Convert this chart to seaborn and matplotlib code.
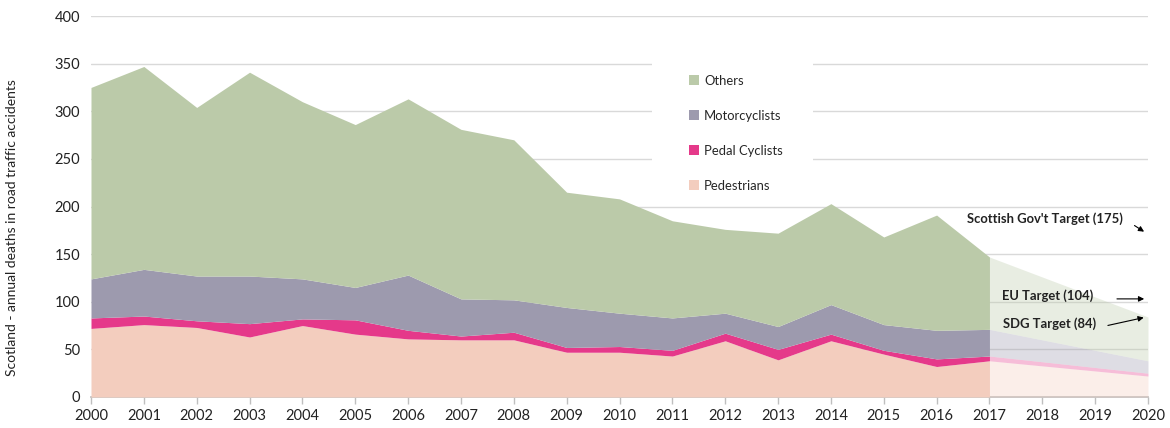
import matplotlib
matplotlib.use("Agg")
import matplotlib.pyplot as plt
from matplotlib.patches import Patch, Rectangle
import seaborn as sns
import pandas as pd

years = list(range(2000, 2018))
pedestrians = [72, 76, 73, 63, 75, 66, 61, 60, 60, 47, 47, 43, 59, 39, 59, 45, 32, 38]
pedal_cyclists = [11, 9, 7, 14, 7, 15, 9, 4, 8, 5, 6, 6, 8, 11, 7, 4, 8, 5]
motorcyclists = [41, 49, 47, 50, 42, 34, 58, 39, 34, 42, 35, 34, 21, 24, 31, 27, 30, 28]
others = [201, 213, 177, 214, 186, 171, 185, 178, 168, 121, 120, 102, 88, 98, 106, 92, 121, 76]

proj_years = [2017, 2020]
proj_pedestrians = [38, 22]
proj_pedal = [5, 3]
proj_motor = [28, 13]
proj_others = [76, 46]

series_names = ["Pedestrians", "Pedal Cyclists", "Motorcyclists", "Others"]
colors = ["#F3CDBE", "#E5398A", "#9D9AAE", "#BBCAA9"]

targets = [("Scottish Gov't Target (175)", 175), ("EU Target (104)", 104), ("SDG Target (84)", 84)]

df = pd.DataFrame({"year": years, "Pedestrians": pedestrians, "Pedal Cyclists": pedal_cyclists,
                   "Motorcyclists": motorcyclists, "Others": others})
proj = pd.DataFrame({"year": proj_years, "Pedestrians": proj_pedestrians, "Pedal Cyclists": proj_pedal,
                     "Motorcyclists": proj_motor, "Others": proj_others})

sns.set_theme(style="white")
plt.rcParams["font.family"] = ["Lato", "DejaVu Sans"]

fig = plt.figure(figsize=(11.7, 4.28), dpi=100)
ax = fig.add_axes([91 / 1170, 1 - 397 / 428, (1148 - 91) / 1170, (397 - 16) / 428])

ax.stackplot(df["year"], [df[n] for n in series_names], colors=colors, linewidth=0, zorder=3)
ax.stackplot(proj["year"], [proj[n] for n in series_names], colors=colors, alpha=0.33, linewidth=0, zorder=3)

ax.set_xlim(2000, 2020)
ax.set_ylim(0, 400)
ax.set_yticks(range(0, 401, 50))
ax.set_xticks(range(2000, 2021))
ax.yaxis.grid(True, color="#D9D9D9", lw=1)
ax.set_axisbelow(True)
sns.despine(ax=ax, left=True, top=True, right=True)
ax.spines["bottom"].set_color("#BFBFBF")
ax.tick_params(axis="x", length=5, color="#BFBFBF", width=1, labelsize=10.5, labelcolor="#222222", pad=4, bottom=True)
ax.tick_params(axis="y", length=0, labelsize=10.5, labelcolor="#222222", pad=8)
ax.set_ylabel("Scotland - annual deaths in road traffic accidents", fontsize=10, color="#222222")
ax.yaxis.set_label_coords(-0.069, 0.446)

# white legend background box (covers gridlines as in the original)
fig.patches.append(Rectangle((652 / 1170, 1 - 198 / 428), (813 - 652) / 1170, (198 - 40) / 428,
                             transform=fig.transFigure, facecolor="white", edgecolor="none", zorder=4))

handles = [Patch(facecolor=colors[i], edgecolor="none", label=series_names[i]) for i in [3, 2, 1, 0]]
leg = fig.legend(handles=handles, loc="upper left", bbox_to_anchor=(689 / 1170, 1 - 75 / 428),
                 bbox_transform=fig.transFigure, frameon=False, fontsize=9.4, handlelength=0.8,
                 handleheight=0.8, handletextpad=0.35, labelspacing=1.76, borderpad=0, borderaxespad=0)
leg.set_zorder(5)

# annotations: text position, arrow start, arrow end (data coords)
text_pos = [((2016.58, 187), (2019.70, 181.6), (2019.97, 172)),
            ((2017.24, 106), (2019.36, 103), (2019.98, 103)),
            ((2017.26, 76.6), (2019.19, 74.5), (2019.97, 84))]
for (label, val), (tpos, a0, a1) in zip(targets, text_pos):
    ax.text(tpos[0], tpos[1], label, fontsize=9.4, fontweight="bold", color="#222222",
            va="center", ha="left", zorder=6)
    ax.annotate("", xy=a1, xytext=a0,
                arrowprops=dict(arrowstyle="-|>", color="black", lw=0.8, mutation_scale=8), zorder=6)

fig.savefig("out.png", dpi=100)
